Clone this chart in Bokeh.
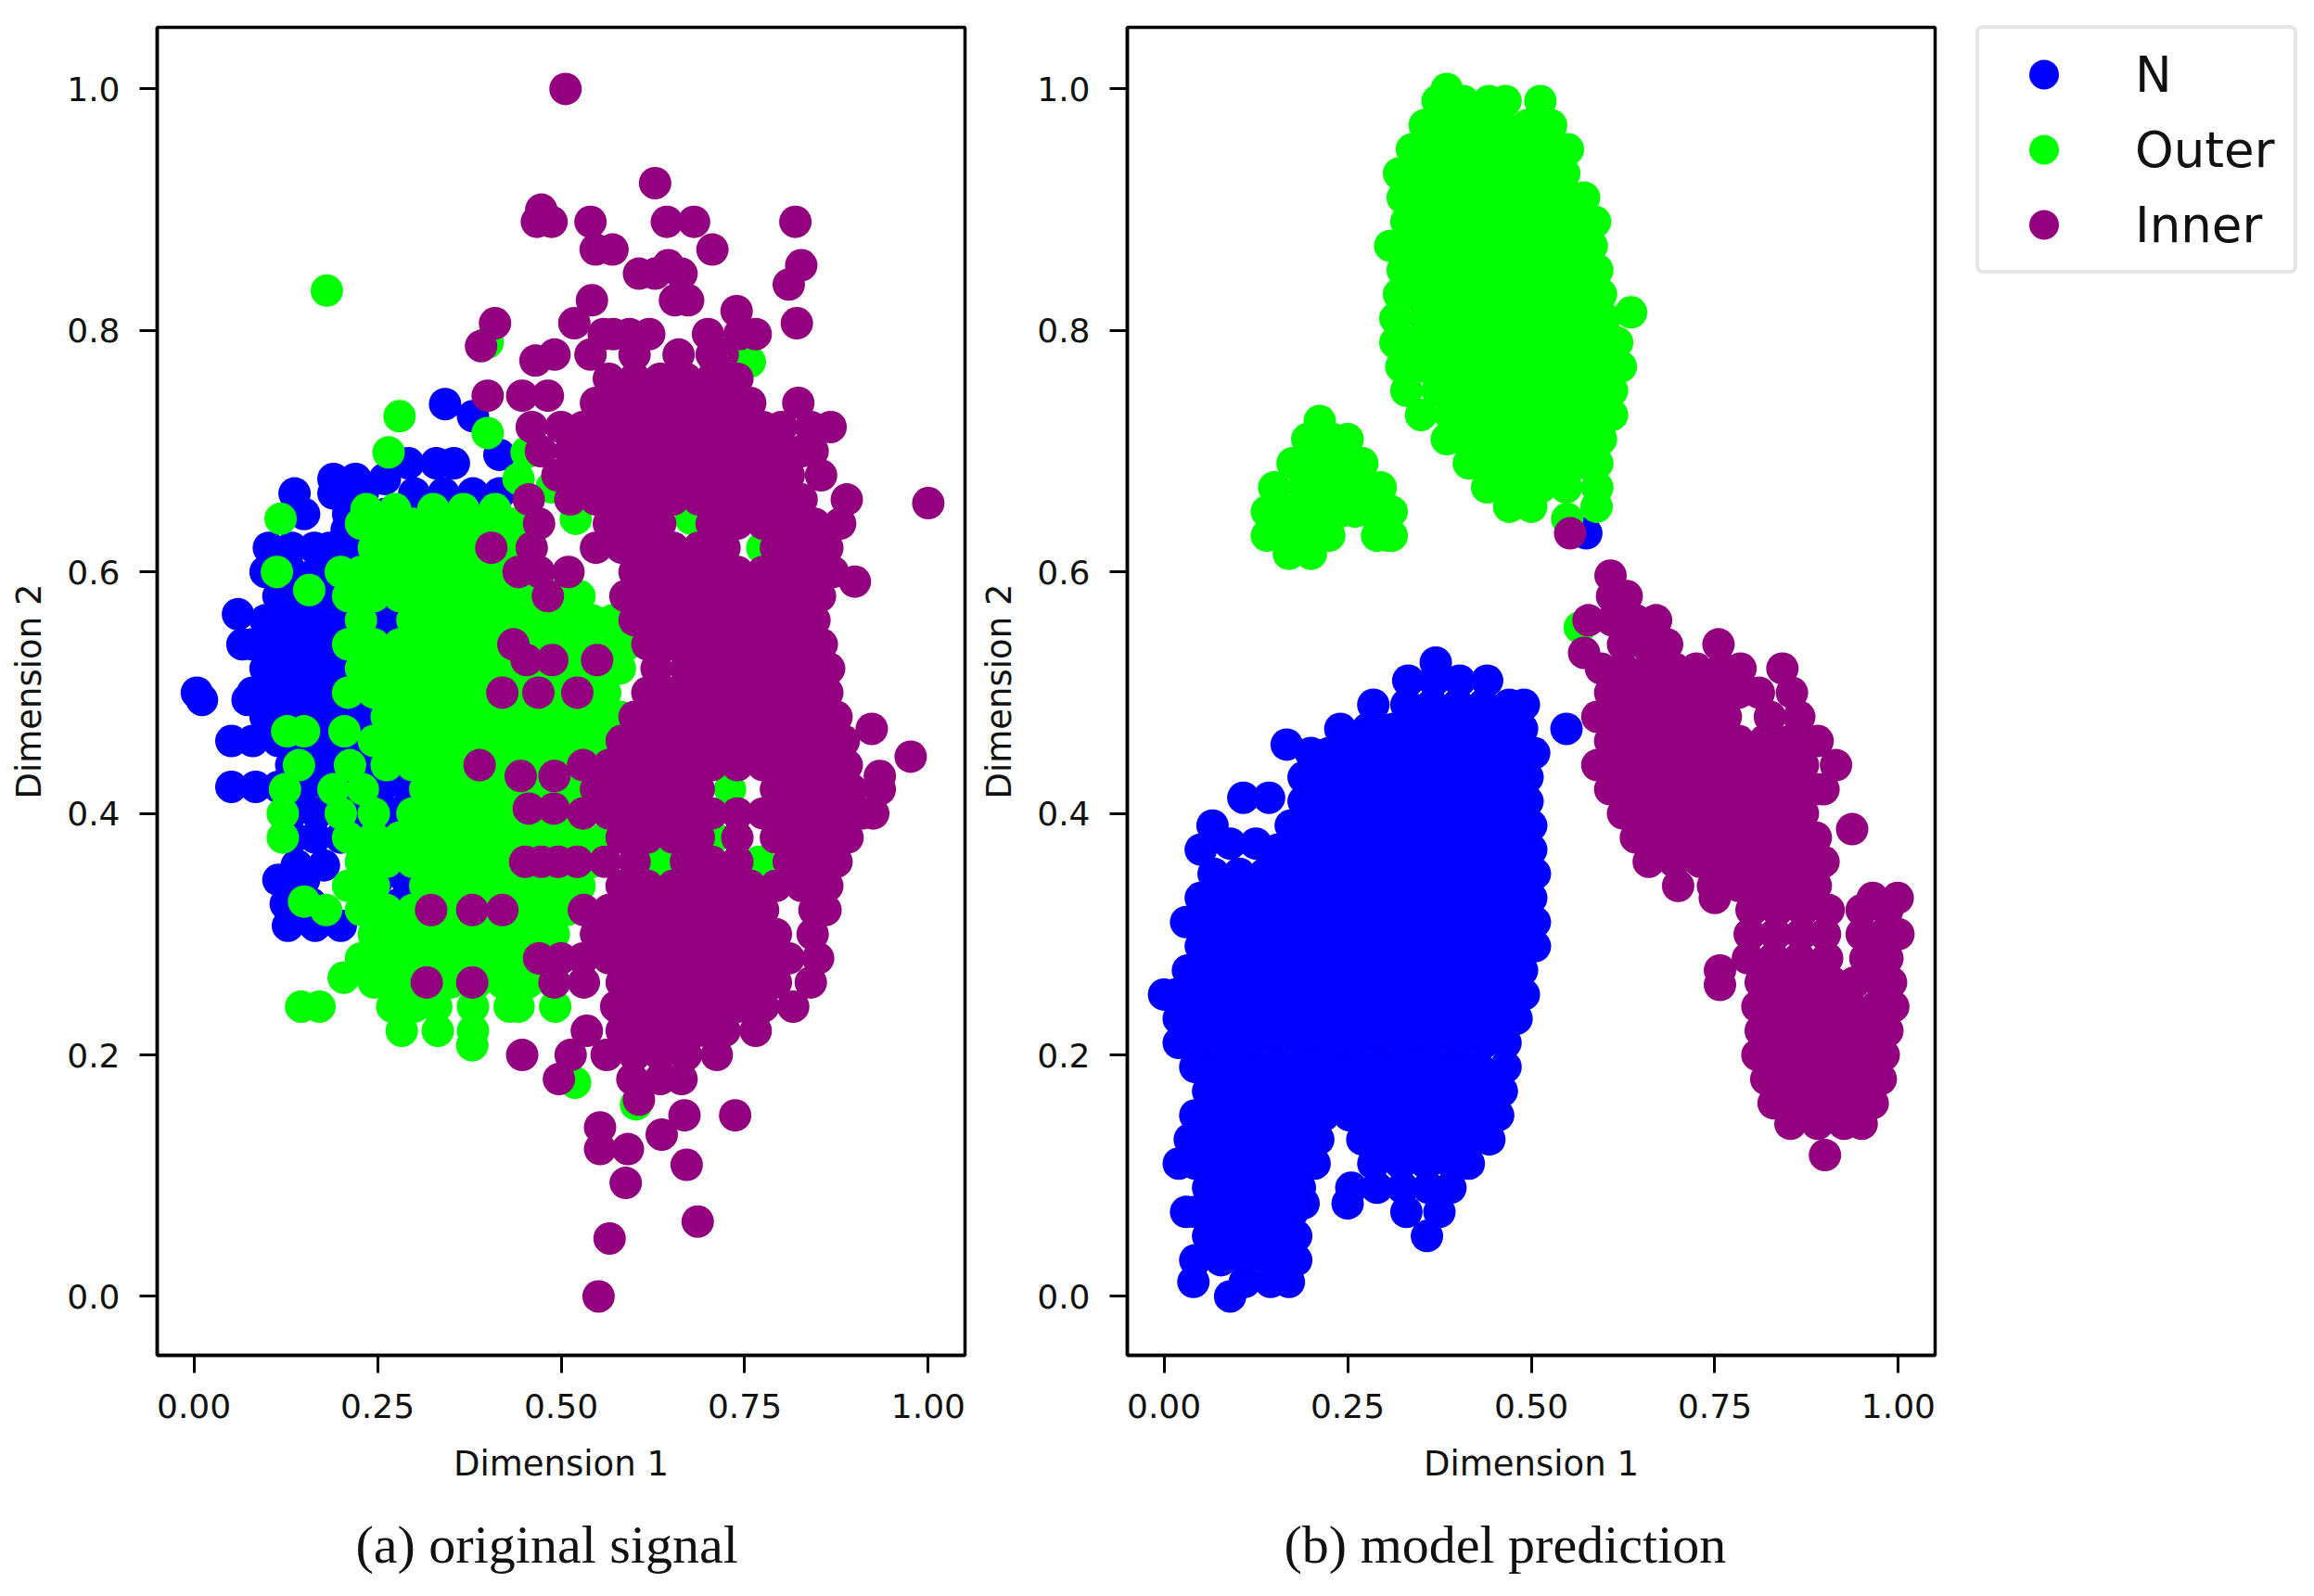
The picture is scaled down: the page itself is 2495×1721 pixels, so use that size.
from bokeh.plotting import figure
from bokeh.layouts import row
from bokeh.models import FixedTicker, NumeralTickFormatter, Legend, LegendItem, Title
from bokeh.embed import file_html
from bokeh.resources import INLINE

x_ticks = [0.0, 0.25, 0.5, 0.75, 1.0]
y_ticks = [0.0, 0.2, 0.4, 0.6, 0.8, 1.0]
x_title = "Dimension 1"
y_title = "Dimension 2"
caption_a = "(a) original signal"
caption_b = "(b) model prediction"
class_names = ["N", "Outer", "Inner"]
class_colors = ["#0000ff", "#00ff00", "#93007f"]

left_n_y = [.739,.729,.697,.69,.677,.665,.648,.635,.62,.60,.58,.565,.56,.54,.52,.50,.494,.48,.46,.44,.422,.40,.38,.357,.345,.325,.307]
left_n_x = [[.342],[.38],[.416],[.292,.33,.354],[.19,.22,.26],[.137,.19,.23,.30,.34,.38,.416],[.15,.21,.26,.30,.34,.39],[.208,.25,.29,.33,.37],[.102,.133,.164,.185,.22,.255,.29,.325,.36],[.0975,.1325,.1675,.2025,.2375,.2725,.3075],[.115,.15,.185,.22,.255,.29,.325],[.06],[.0975,.1325,.1675,.2025,.2375,.2725],[.066,.08,.115,.15,.185,.22,.255,.29],[.0975,.1325,.1675,.2025,.2375,.2725],[.004,.08,.115,.15,.185,.22,.255,.29],[.011,.073],[.0975,.1325,.1675,.2025,.2375,.2725],[.051,.08,.115,.15,.185,.22,.255,.29],[.1325,.1675,.2025,.2375,.2725],[.051,.084,.115,.15,.185,.22,.255,.29],[.1325,.1675,.2025,.2375,.2725],[.135,.165,.20,.26,.29,.33],[.177,.14,.23,.27,.32],[.115,.15,.25,.29],[.125,.16,.24,.28],[.128,.165,.20,.26]]

left_o_y = [.833,.79,.774,.736,.729,.715,.699,.677,.67,.652,.644,.64,.62,.60,.585,.58,.56,.54,.52,.50,.48,.468,.46,.44,.42,.40,.38,.36,.34,.327,.32,.30,.28,.264,.26,.24,.22,.208,.177,.159]
left_o_x = [[.181],[.40],[.757],[.62],[.28],[.40],[.453,.265],[.442],[.487],[.235,.274,.326,.367,.41],[.118,.52,.677],[.2275,.2625,.2975,.3325,.3675,.4025,.4375],[.245,.28,.315,.35,.385,.42,.455,.774],[.113,.20,.2275,.2625,.2975,.3325,.3675,.4025,.4375],[.157],[.21,.245,.28,.315,.35,.385,.42,.455,.49,.525],[.2275,.2975,.3325,.3675,.4025,.4375,.4725,.5075,.5425,.57],[.21,.245,.28,.315,.35,.385,.42,.455,.49,.525,.56,.59],[.2275,.2625,.2975,.3325,.3675,.4025,.4375,.4725,.5075,.5425,.58],[.21,.245,.28,.315,.35,.385,.42,.455,.49,.525,.56],[.2625,.2975,.3325,.3675,.4025,.4375,.4725,.5075,.5425,.58],[.127,.15,.205],[.245,.28,.315,.35,.385,.42,.455,.49,.525,.56],[.143,.2125,.2625,.2975,.3325,.3675,.4025,.4375,.4725,.5075,.5425],[.124,.19,.23,.315,.35,.385,.42,.455,.49,.525,.56,.73],[.121,.20,.245,.2975,.3325,.3675,.4025,.4375,.4725,.5075],[.121,.21,.245,.28,.315,.35,.385,.42,.455,.49,.525,.56,.708],[.2275,.2625,.2975,.3325,.3675,.4025,.4375,.4725,.5075,.5425,.637,.77],[.21,.245,.315,.35,.385,.42,.455,.49,.525],[.15],[.18,.2275,.2625,.2975,.3325,.3675,.4025,.4375,.4725,.5075],[.245,.28,.315,.35,.385,.42,.455,.49],[.2275,.2625,.2975,.3325,.3675,.4025,.4375,.4725],[.204],[.245,.28,.315,.35,.385,.42,.455,.49],[.146,.171,.27,.30,.33,.38,.43,.442,.492,.68],[.283,.332,.38],[.379],[.519],[.602]]

left_i_y = [1.0,.922,.90,.89,.867,.854,.847,.838,.825,.816,.806,.797,.787,.78,.775,.76,.746,.74,.72,.70,.68,.66,.657,.64,.62,.60,.592,.58,.56,.54,.527,.52,.50,.48,.47,.46,.447,.44,.431,.42,.404,.40,.38,.36,.34,.32,.30,.28,.26,.24,.22,.20,.18,.163,.15,.14,.134,.122,.109,.094,.062,.048,0.0]
left_i_x = [[.506],[.628],[.473],[.467,.487,.54,.644,.681,.819],[.547,.57,.706],[.827,.646],[.606,.628,.664],[.81],[.542,.655,.673],[.739],[.821,.518,.41],[.558,.593,.62,.571,.70,.743,.765],[.391],[.491,.54,.60,.66,.705,.72],[.465,.71],[.565,.60,.635,.67,.705,.74],[.40,.447,.482],[.5475,.5825,.6175,.6525,.6875,.7225,.7575,.823],[.46,.50,.53,.565,.60,.635,.67,.705,.74,.775,.80,.84,.867],[.4725,.5125,.5475,.5825,.6175,.6525,.6875,.7225,.7575,.7925,.8275,.8425],[.495,.53,.565,.60,.635,.67,.705,.74,.775,.81,.854],[.456,.5125,.5475,.5825,.6175,.6525,.6875,.7225,.7575,.7925,.8275,.889],[1.0],[.47,.565,.60,.635,.705,.74,.775,.81,.845,.88],[.405,.46,.5475,.5825,.6175,.6525,.6875,.7225,.7925,.8275,.8625],[.442,.47,.51,.60,.635,.67,.705,.74,.775,.81,.845,.87],[.90],[.482,.5875,.6175,.6525,.6875,.7225,.7575,.7925,.8275,.8525],[.60,.635,.67,.705,.74,.775,.81,.845],[.435,.6175,.6525,.6875,.7225,.7575,.7925,.8275,.855],[.453,.488,.549],[.63,.67,.705,.74,.775,.81,.845,.865],[.42,.469,.522,.6175,.6525,.6875,.7225,.7575,.7925,.8275,.8625],[.60,.635,.67,.705,.74,.775,.81,.845,.875],[.923],[.5825,.6175,.6525,.6875,.7225,.7575,.7925,.8275,.8625,.885],[.976],[.389,.53,.565,.60,.635,.67,.705,.74,.775,.81,.845,.88,.889],[.445,.491,.934],[.5475,.5825,.6175,.6525,.6875,.7925,.8275,.8625,.895,.934],[.456,.49],[.53,.565,.60,.635,.67,.705,.74,.775,.81,.845,.88,.91,.925],[.5825,.6175,.6525,.6875,.74,.7925,.8275,.8625,.89],[.451,.473,.496,.522,.56,.60,.67,.705,.74,.81,.845,.875],[.5825,.6175,.6525,.6875,.7225,.7575,.7925,.8275,.8625],[.323,.379,.42,.531,.565,.60,.635,.67,.705,.74,.775,.845,.86],[.5475,.5825,.6175,.6525,.6875,.7225,.7575,.7925,.8425],[.47,.50,.53,.565,.60,.635,.67,.705,.74,.775,.81,.85],[.317,.379,.491,.531,.5825,.6175,.6525,.6875,.7225,.7575,.7925,.84],[.575,.60,.635,.67,.705,.74,.775,.816],[.535,.5825,.6175,.6525,.6875,.7225,.765],[.447,.513,.562,.60,.635,.67,.712],[.497,.597,.635,.664],[.606],[.668,.737],[.553],[.637],[.553,.591],[.671],[.588],[.686],[.566],[.551]]

right_n_y = [.632,.525,.51,.49,.47,.457,.45,.43,.413,.41,.39,.375,.37,.35,.33,.31,.29,.27,.25,.23,.21,.19,.17,.15,.13,.11,.09,.077,.07,.05,.03,.012,0.0]
right_n_x = [[.575],[.37],[.3325,.3675,.4025,.44],[.285,.33,.365,.40,.435,.47,.49],[.24,.2775,.3125,.3475,.3825,.4175,.4525,.4875,.548],[.167],[.20,.225,.26,.295,.33,.365,.40,.435,.47,.504],[.19,.2075,.2425,.2775,.3125,.3475,.3825,.4175,.4525,.4875,.495],[.108,.143],[.19,.225,.26,.295,.33,.365,.40,.435,.47,.495],[.066,.1725,.2075,.2425,.2775,.3125,.3475,.3825,.4175,.4525,.4875,.50],[.09,.125],[.05,.155,.19,.225,.26,.295,.33,.365,.40,.435,.47,.50],[.0675,.1025,.1375,.1725,.2075,.2425,.2775,.3125,.3475,.3825,.4175,.4525,.4875,.505],[.05,.085,.12,.155,.19,.225,.26,.295,.33,.365,.40,.435,.47,.50],[.03,.0675,.1025,.1375,.1725,.2075,.2425,.2775,.3125,.3475,.3825,.4175,.4525,.4875,.505],[.05,.085,.12,.155,.19,.225,.26,.295,.33,.365,.40,.435,.47,.505],[.0325,.0675,.1025,.1375,.1725,.2075,.2425,.2775,.3125,.3475,.3825,.4175,.4525,.4875],[0.0,.015,.05,.085,.12,.155,.19,.225,.26,.295,.33,.365,.40,.435,.47,.49],[.02,.0325,.0675,.1025,.1375,.1725,.2075,.2425,.2775,.3125,.3475,.3825,.4175,.4525,.48],[.02,.05,.085,.12,.155,.19,.225,.26,.295,.33,.365,.40,.435,.465],[.0425,.0775,.1125,.1475,.1825,.2175,.2525,.2875,.3225,.3575,.3925,.4275,.465],[.06,.095,.13,.165,.20,.235,.27,.305,.34,.375,.41,.445,.46],[.0425,.0775,.1125,.1475,.1825,.2175,.2525,.2875,.3225,.3575,.3925,.4275,.455],[.035,.06,.095,.13,.165,.19,.21,.27,.305,.34,.375,.41,.443],[.02,.0425,.0775,.1125,.1475,.18,.205,.285,.3225,.3575,.3925,.415],[.06,.095,.13,.165,.185,.255,.29,.325,.36,.39],[.19,.25],[.03,.0425,.0775,.1125,.1475,.175,.33,.375],[.06,.095,.13,.165,.18,.358],[.0425,.0775,.1125,.1475,.18],[.04,.145,.17,.11],[.09]]

right_o_y = [1.0,.99,.97,.95,.93,.91,.89,.87,.85,.83,.815,.81,.79,.77,.75,.73,.71,.69,.67,.654,.644,.725,.71,.69,.67,.65,.63,.615,.554]
right_o_x = [[.385],[.3725,.4075,.4425,.465,.5125],[.355,.39,.425,.46,.495,.527],[.3375,.3725,.4075,.4425,.4775,.5125,.55],[.32,.355,.39,.425,.46,.495,.53,.545],[.325,.3375,.3725,.4075,.4425,.4775,.5125,.5475,.572],[.33,.355,.39,.425,.46,.495,.53,.565,.587],[.308,.3375,.3725,.4075,.4425,.4775,.5125,.5475,.5825],[.325,.355,.39,.425,.46,.495,.53,.565,.59],[.32,.3375,.3725,.4075,.4425,.4775,.5125,.5475,.5825,.595],[.636],[.315,.355,.39,.425,.46,.495,.53,.565,.60],[.315,.3375,.3725,.4075,.4425,.4775,.5125,.5475,.5825,.617],[.323,.355,.39,.425,.46,.495,.53,.565,.60,.622],[.33,.3725,.4075,.4425,.4775,.5125,.5475,.5825,.61],[.35,.39,.425,.46,.495,.53,.565,.60,.61],[.385,.4075,.4425,.4775,.5125,.5475,.5825,.595],[.415,.425,.46,.495,.53,.565,.59],[.44,.4775,.5125,.5475,.59],[.47,.50,.589],[.549],[.212],[.195,.23,.25],[.175,.21,.245,.27],[.15,.19,.225,.26,.28,.295],[.14,.17,.205,.24,.26,.28,.31],[.14,.155,.19,.225,.29,.305,.31],[.17,.20],[.566]]

right_i_y = [.632,.597,.58,.56,.54,.533,.52,.50,.48,.46,.44,.42,.40,.387,.38,.36,.34,.33,.32,.30,.28,.27,.258,.26,.24,.22,.20,.18,.16,.143,.117]
right_i_x = [[.553],[.608],[.61,.63],[.578,.61,.6425,.67],[.625,.655,.685,.755],[.572],[.595,.625,.66,.695,.725,.76,.785,.842],[.6075,.6425,.6775,.7125,.7475,.7825,.81,.855],[.59,.625,.66,.695,.73,.765,.825,.865],[.6075,.6425,.6775,.7125,.7475,.7825,.8175,.8525,.89],[.59,.625,.66,.695,.73,.765,.80,.835,.87,.915],[.6075,.6425,.6775,.7125,.7475,.7825,.8175,.8525,.8875,.898],[.625,.66,.695,.73,.765,.80,.835,.87],[.937],[.6425,.6775,.7125,.7475,.7825,.8175,.8525,.8875],[.66,.695,.73,.765,.80,.835,.87,.898],[.70,.7475,.7825,.8175,.8525,.8875],[.75,.965,.999],[.80,.835,.87,.905,.95,.985],[.7975,.8325,.8675,.90,.95,.98,1.0],[.795,.83,.865,.903,.955,.985],[.757],[.757],[.8125,.8475,.8825,.91,.94,.975,.99],[.808,.83,.865,.90,.935,.97,.993],[.8125,.8475,.8825,.9175,.9525,.985],[.808,.83,.865,.90,.935,.97,.98],[.82,.8475,.8825,.9175,.9525,.976],[.83,.865,.90,.935,.965],[.853,.89,.926,.95],[.90]]

marker_px = 35


def flatten(rows_y, rows_x):
    xs, ys = [], []
    for y, row_x in zip(rows_y, rows_x):
        for x in row_x:
            xs.append(x)
            ys.append(y)
    return xs, ys


def panel(left_border, right_border, caption, caption_offset):
    p = figure(frame_width=871, frame_height=1432, x_range=(-0.05, 1.05), y_range=(-0.0488, 1.051),
               output_backend="svg", toolbar_location=None, min_border_left=left_border,
               min_border_right=right_border, min_border_top=29, min_border_bottom=245,
               background_fill_color="white", border_fill_color="white")
    p.grid.visible = False
    p.outline_line_color = "black"
    p.outline_line_width = 3.5
    for ax, ticks, fmt, title in ((p.xaxis[0], x_ticks, "0.00", x_title), (p.yaxis[0], y_ticks, "0.0", y_title)):
        ax.ticker = FixedTicker(ticks=ticks)
        ax.formatter = NumeralTickFormatter(format=fmt)
        ax.axis_label = title
        ax.axis_label_text_font = "DejaVu Sans"
        ax.axis_label_text_font_style = "normal"
        ax.axis_label_text_font_size = "37px"
        ax.axis_label_text_color = "#111111"
        ax.major_label_text_font = "DejaVu Sans"
        ax.major_label_text_font_size = "36px"
        ax.major_label_text_color = "#111111"
        ax.minor_tick_line_color = None
        ax.major_tick_in = 0
        ax.major_tick_out = 19
        ax.major_tick_line_width = 3
        ax.major_tick_line_color = "black"
        ax.axis_line_color = "black"
        ax.axis_line_width = 3.5
    p.xaxis[0].major_label_standoff = 22
    p.yaxis[0].major_label_standoff = 21
    p.xaxis[0].axis_label_standoff = 25
    p.yaxis[0].axis_label_standoff = 16
    p.add_layout(Title(text=caption, align="left", offset=caption_offset, standoff=56,
                       text_font="Liberation Serif", text_font_size="58px",
                       text_font_style="normal", text_color="#111111"), "below")
    return p


left = panel(169, 8, caption_a, 214)
right = panel(167, 2, caption_b, 169)

for p, sets in ((left, [flatten(left_n_y, left_n_x), flatten(left_o_y, left_o_x), flatten(left_i_y, left_i_x)]),
                (right, [flatten(right_n_y, right_n_x), flatten(right_o_y, right_o_x), flatten(right_i_y, right_i_x)])):
    rs = []
    for (xs, ys), c in zip(sets, class_colors):
        rs.append(p.scatter(xs, ys, size=marker_px, marker="circle", fill_color=c, line_color=None))
    if p is right:
        legend = Legend(items=[LegendItem(label=n, renderers=[r]) for n, r in zip(class_names, rs)],
                        location=(44, 1166), glyph_width=121, glyph_height=80, spacing=1, padding=9,
                        label_standoff=38, label_width=162, label_text_font="DejaVu Sans",
                        label_text_font_size="53px", label_text_color="#111111",
                        border_line_color="#cccccc", border_line_width=4, background_fill_alpha=1.0,
                        margin=24)
        if "border_radius" in legend.properties():
            legend.border_radius = 8
        p.add_layout(legend, "right")

page = row(left, right, spacing=0)
open("out.html", "w").write(file_html(page, INLINE))
